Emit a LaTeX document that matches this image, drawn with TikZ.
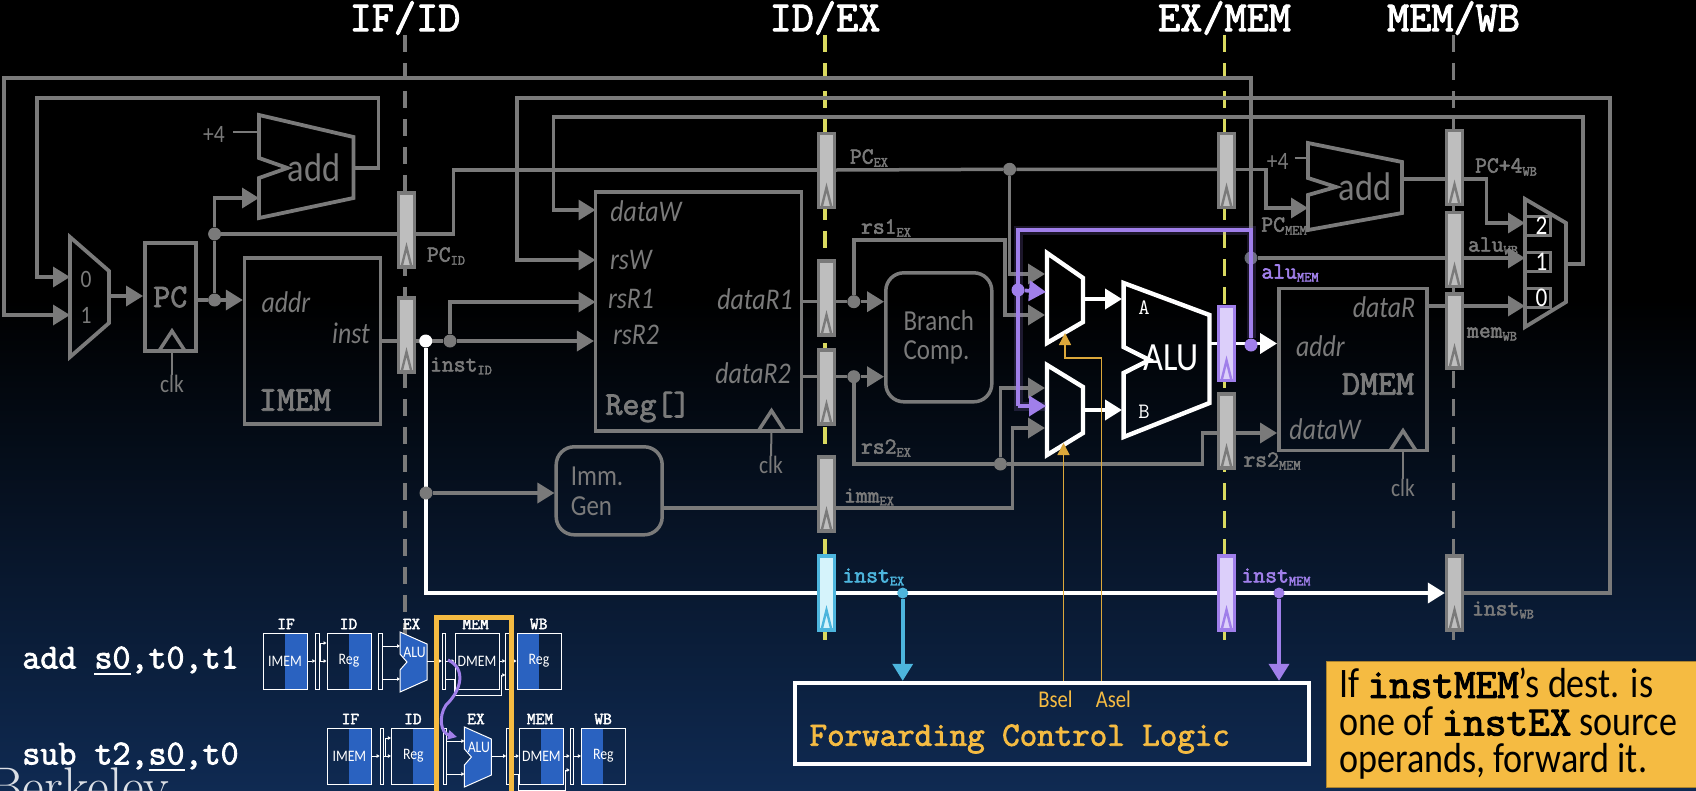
\documentclass[tikz,border=0pt]{standalone}
\usepackage{fontspec}
\setsansfont[FakeStretch=0.86]{Carlito}
\setmonofont[BoldFont=Latin Modern Mono,BoldFeatures={FakeBold=2.4}]{Latin Modern Mono}
\usetikzlibrary{arrows.meta}

\definecolor{wireGray}{HTML}{7A7A7A}
\definecolor{regFill}{HTML}{BEBEBE}
\definecolor{bgNavy}{HTML}{0F2A52}
\definecolor{fwdPurple}{HTML}{A07FEA}
\definecolor{regPurple}{HTML}{DCCFFA}
\definecolor{fwdCyan}{HTML}{4DB5DD}
\definecolor{regCyan}{HTML}{D5F3FB}
\definecolor{selOrange}{HTML}{F5BB42}
\definecolor{stageYellow}{HTML}{D9D95F}
\definecolor{miniBlue}{HTML}{2A62C0}

\newcommand{\sublbl}[2]{#1\raisebox{-3pt}{\fontsize{14}{14}\selectfont #2}}
\newcommand{\ulreg}[1]{\rlap{\rule[-7pt]{1.05em}{2.5pt}}#1}
\newcommand{\notemono}[1]{{\ttfamily\bfseries\fontsize{42}{37}\selectfont #1}}
\newcommand{\clktri}[1]{\draw[wire] ([xshift=-13pt]#1) -- ([yshift=20pt]#1) -- ([xshift=13pt]#1);}

\tikzset{
  >={Triangle[length=17pt,width=20pt]},
  wire/.style={draw=wireGray,line width=3.5pt},
  thinwire/.style={draw=wireGray,line width=2pt},
  hotwire/.style={draw=white,line width=3.8pt},
  fwdwire/.style={draw=fwdPurple,line width=3.8pt},
  cyanwire/.style={draw=fwdCyan,line width=3.6pt},
  selwire/.style={draw=selOrange!90!black,line width=1.5pt,>={Triangle[length=12pt,width=12pt]}},
  glow/.style={draw=fwdPurple,line width=9pt,opacity=.18},
  stage/.style={line width=3.5pt,dash pattern=on 17pt off 11pt},
  stagelbl/.style={font=\ttfamily\bfseries\fontsize{43}{43}\selectfont,text=white,inner sep=0pt},
  dot/.style={circle,fill=wireGray,inner sep=0pt,minimum size=13pt},
  block/.style={rectangle,draw=wireGray,line width=3.5pt,inner sep=0pt,text=wireGray},
  roundblock/.style={block,rounded corners=18pt,font=\sffamily\fontsize{29}{29}\selectfont,align=left},
  pipereg/.style={rectangle,draw=#1,line width=3.4pt,fill=regFill,inner sep=0pt,
    minimum width=16pt,minimum height=74pt,
    path picture={\draw[#1,line width=2.4pt] ([xshift=-5pt]path picture bounding box.south)
      -- ([yshift=20pt]path picture bounding box.south) -- ([xshift=5pt]path picture bounding box.south);}},
  pipereg/.default=wireGray,
  monolbl/.style={font=\ttfamily\bfseries\fontsize{23}{25}\selectfont,text=wireGray,inner sep=0pt},
  bigmono/.style={font=\ttfamily\bfseries\fontsize{35}{37}\selectfont,text=wireGray,inner sep=0pt},
  portlbl/.style={font=\sffamily\itshape\fontsize{30}{32}\selectfont,text=wireGray,inner sep=0pt},
  sanslbl/.style={font=\sffamily\fontsize{25}{27}\selectfont,text=wireGray,inner sep=0pt},
  hotlbl/.style={font=\sffamily\fontsize{40}{44}\selectfont,text=white,inner sep=0pt},
  codelbl/.style={font=\ttfamily\bfseries\fontsize{35}{37}\selectfont,text=white,inner sep=0pt},
  minibox/.style={rectangle,draw=white,line width=1pt,minimum width=44pt,minimum height=56pt,inner sep=0pt,
    font=\sffamily\fontsize{16}{16}\selectfont,text=white},
  miniright/.style={minibox,path picture={\fill[miniBlue] (path picture bounding box.north) rectangle (path picture bounding box.south east);}},
  minileft/.style={minibox,path picture={\fill[miniBlue] (path picture bounding box.north) rectangle (path picture bounding box.south west);}},
  minibar/.style={rectangle,draw=white,line width=1pt,minimum width=3.4pt,minimum height=56pt,inner sep=0pt},
  minilbl/.style={font=\ttfamily\bfseries\fontsize{17}{17}\selectfont,text=white,inner sep=0pt},
  miniwire/.style={draw=white,line width=.9pt,>={Triangle[length=3pt,width=3.4pt]}},
}

% one row of the little five stage strip
\newcommand{\minirow}[4]{%
  \begin{scope}[shift={(#2,#3)}]
    \node[minilbl] (#1lblIF) at (23,-9) {IF};
    \node[minilbl] (#1lblID) at (85.5,-9) {ID};
    \node[minilbl] (#1lblEX) at (148.6,-9) {EX};
    \node[minilbl] (#1lblMEM) at (212.6,-9) {MEM};
    \node[minilbl] (#1lblWB) at (275.7,-9) {WB};
    \node[miniright] (#1imem) at (22,28) {IMEM};
    \node[minibar] (#1barA) at (54.5,28) {};
    \node[miniright] (#1reg) at (86,28) {Reg};
    \node[minibar] (#1barB) at (117.5,28) {};
    \draw[fill=miniBlue,draw=white,line width=1pt] (137,-1) -- (164,11) -- (164,47) -- (137,59) -- (137,37) -- (144,29) -- (137,21) -- cycle;
    \node[font=\sffamily\fontsize{16}{16}\selectfont,text=white,inner sep=0pt] (#1alu) at (151.5,19) {ALU};
    \coordinate (#1aluIn) at (137,13);
    \coordinate (#1aluInB) at (137,46);
    \coordinate (#1aluOut) at (164,28);
    \node[minibar] (#1barC) at (181,28) {};
    \node[#4] (#1dmem) at (214,28) {DMEM};
    \node[minibar] (#1barD) at (244.5,28) {};
    \node[minileft] (#1regB) at (276,28) {Reg};
    \coordinate (#1regUp) at (0,10);
    \coordinate (#1memLow) at (191,62);
    \coordinate (#1memUp) at (238,42);
    \draw[miniwire,->] (#1imem) ++(22,0) -- (#1barA.west);
    \draw[miniwire,->] (#1barA.east) -- (#1reg.west);
    \draw[miniwire,->] (#1barA.east) ++(1,0) |- (#1reg.west |- #1regUp);
    \draw[miniwire,->] (#1barB.east |- #1aluIn) -- (#1aluIn);
    \draw[miniwire,->] (#1barB.east |- #1aluInB) -- (#1aluInB);
    \draw[miniwire,->] (#1aluOut) -- (#1barC.west |- #1aluOut);
    \draw[miniwire,->] (#1barC.east) -- (#1dmem.west);
    \draw[miniwire] (#1barC.east |- #1aluInB) -| (#1memLow);
    \draw[miniwire,->] (#1memLow) -| (#1memUp) -- (#1barD.west |- #1memUp);
    \draw[miniwire,->] (#1dmem.east) -- (#1barD.west);
    \draw[miniwire,->] (#1barD.east) -- (#1regB.west);
  \end{scope}
}

\begin{document}
\begin{tikzpicture}[x=1pt,y=-1pt]
  \useasboundingbox (0,0) rectangle (1696,790);
  \clip (0,0) rectangle (1696,790);
  \fill[black] (0,0) rectangle (1696,300);
  \shade[top color=black,bottom color=bgNavy] (0,300) rectangle (1696,790);

  % stage boundaries
  \node[stagelbl] (lblIF) at (405,18) {IF/ID};
  \node[stagelbl] (lblID) at (825,18) {ID/EX};
  \node[stagelbl] (lblEX) at (1224.5,18) {EX/MEM};
  \node[stagelbl] (lblMEM) at (1453.5,18) {MEM/WB};
  \coordinate (stageEnd) at (0,648);
  \draw[stage,wireGray] (lblIF.south) -- (lblIF.south |- stageEnd);
  \draw[stage,stageYellow] (lblID.south) -- (lblID.south |- stageEnd);
  \draw[stage,stageYellow] (lblEX.south) -- (lblEX.south |- stageEnd);
  \draw[stage,wireGray] (lblMEM.south) -- (lblMEM.south |- stageEnd);

  % pipeline registers
  \node[pipereg] (pcID) at (406.5,230) {};
  \node[pipereg] (instID) at (406.5,335) {};
  \node[pipereg] (pcEX) at (826.5,170.5) {};
  \node[pipereg] (rsOneEX) at (826.5,298) {};
  \node[pipereg] (rsTwoEX) at (826.5,387) {};
  \node[pipereg] (immEX) at (826.5,494) {};
  \node[pipereg=fwdCyan,fill=regCyan] (instEX) at (826.5,593) {};
  \node[pipereg] (pcMEM) at (1226.5,170.5) {};
  \node[pipereg=fwdPurple,fill=regPurple] (aluMEM) at (1226.5,343.5) {};
  \node[pipereg] (rsTwoMEM) at (1226.5,431) {};
  \node[pipereg=fwdPurple,fill=regPurple] (instMEM) at (1226.5,593) {};
  \node[pipereg] (pcWB) at (1454.5,167.5) {};
  \node[pipereg] (aluWB) at (1454.5,249.5) {};
  \node[pipereg] (memWB) at (1454.5,331) {};
  \node[pipereg] (instWB) at (1454.5,593) {};

  % blocks
  \node[block,minimum width=51pt,minimum height=108pt,font=\ttfamily\bfseries\fontsize{33}{35}\selectfont] (pc) at (170.3,297) {PC};
  \node[block,minimum width=136pt,minimum height=166pt] (imem) at (312.6,341) {};
  \node[block,minimum width=206pt,minimum height=239pt] (rf) at (698.7,311.3) {};
  \node[block,minimum width=148pt,minimum height=162pt] (dmem) at (1352.8,369.5) {};
  \node[roundblock,minimum width=106pt,minimum height=129pt] (branch) at (938.8,337.3) {Branch\\Comp.};
  \node[roundblock,minimum width=106pt,minimum height=88pt] (immgen) at (609.2,490.8) {};
  \node[sanslbl,font=\sffamily\fontsize{29}{30}\selectfont,align=left] (immText) at (597,491) {Imm.\\Gen};

  % mux, adder and ALU outlines
  \draw[wire,line width=3.8pt] (70,237) -- (109,271) -- (109,323) -- (70,357) -- cycle;
  \draw[wire,line width=3.8pt] (259,115) -- (353.5,137) -- (353.5,198) -- (259,218) -- (259,178) -- (287.5,168) -- (259,158) -- cycle;
  \draw[wire,line width=3.8pt] (1308,143) -- (1402,162) -- (1402,213) -- (1308,230) -- (1308,195) -- (1336,187) -- (1308,178) -- cycle;
  \draw[wire,line width=3.8pt] (1525,199) -- (1566,223) -- (1566,302) -- (1525,327) -- cycle;
  \draw[hotwire,line width=4.4pt] (1047,253) -- (1083,278) -- (1083,322) -- (1047,343) -- cycle;
  \draw[hotwire,line width=4.4pt] (1047,365) -- (1083,387) -- (1083,433) -- (1047,455) -- cycle;
  \draw[hotwire,line width=4.4pt] (1123.6,283) -- (1209.5,315) -- (1209.5,403) -- (1123.6,437) -- (1123.6,373) -- (1149.4,360) -- (1123.6,347) -- cycle;

  \foreach \y/\t/\n in {226/2/two,262/1/one,298/0/zero} {
    \node[rectangle,draw=wireGray,line width=3pt,minimum width=25pt,minimum height=19pt,inner sep=0pt,
      font=\sffamily\fontsize{27}{27}\selectfont,text=white,xshift=4pt] (wbSel\n) at (1534,\y) {\hspace*{7pt}\t};
  }

  % ports and bends
  \coordinate (muxAin) at (70,277);
  \coordinate (muxAinB) at (70,315);
  \coordinate (muxAout) at (109,296);
  \coordinate (addAin) at (259,198);
  \coordinate (addAout) at (353.5,168);
  \coordinate (addAconst) at (259,132);
  \coordinate (outerTL) at (4,78);
  \coordinate (innerTR) at (378.6,98);
  \coordinate (innerTL) at (37,98);
  \coordinate (pcBend) at (453.6,170);
  \coordinate (rswTR) at (1610,98);
  \coordinate (rswTL) at (517,98);
  \coordinate (rfW) at (595.5,260);
  \coordinate (rfD) at (595.5,210);
  \coordinate (rfOne) at (595.5,302);
  \coordinate (muxBout) at (1566,264);
  \coordinate (wbTR) at (1583,117);
  \coordinate (wbTL) at (553.4,117);
  \coordinate (mOneA) at (1045,274);
  \coordinate (mOneB) at (1045,315);
  \coordinate (mOneOut) at (1083,299);
  \coordinate (mTwoA) at (1045,388);
  \coordinate (mTwoB) at (1045,428);
  \coordinate (mTwoOut) at (1083,410);
  \coordinate (aluA) at (1122,299);
  \coordinate (aluB) at (1122,410);
  \coordinate (aluOut) at (1209.5,343.5);
  \coordinate (rsOneTop) at (1005,240);
  \coordinate (rsTwoBend) at (1202.7,433);
  \coordinate (immBus) at (600,508);
  \coordinate (immBend) at (1012.6,428);
  \coordinate (addBin) at (1308,208);
  \coordinate (addBout) at (1402,179);
  \coordinate (addBconst) at (1308,158);
  \coordinate (pcAddBend) at (1266,208);
  \coordinate (wbBend) at (1486.7,223);
  \coordinate (muxBtwo) at (1525,223);
  \coordinate (muxBone) at (1525,258);
  \coordinate (muxBzero) at (1525,306);
  \coordinate (memOut) at (1427,306);
  \coordinate (wireInst) at (600,593);
  \coordinate (fwdTR) at (1251,230);
  \coordinate (fwdTL) at (1018,230);
  \coordinate (fwdBL) at (1018,406);
  \coordinate (mTwoFwd) at (1046,406);
  \coordinate (mOneFwd) at (1046,292);

  % junctions
  \node[dot] (jPcOut) at (214.6,300) {};
  \node[dot] (jPcUp) at (214.6,234) {};
  \node[dot] (jInst) at (450,341) {};
  \node[dot] (jOne) at (853.8,301.7) {};
  \node[dot] (jTwo) at (853.8,376.7) {};
  \node[dot] (jRsTwo) at (1000.4,464) {};
  \node[dot] (jPcEx) at (1009.6,169.3) {};
  \node[dot,fill=wireGray!80!bgNavy] (jAlu) at (1251,258) {};

  % gray datapath
  \draw[wire,->] (jAlu) |- (outerTL) |- (muxAinB);
  \draw[wire,->] (addAout) -| (innerTR) -- (innerTL) |- (muxAin);
  \draw[wire,->] (muxAout) -- (muxAout -| pc.west);
  \draw[wire] (pc.east |- jPcOut) -- (jPcOut);
  \draw[wire,->] (jPcOut) -- (jPcOut -| imem.west);
  \draw[wire] (jPcOut) -- (jPcUp);
  \draw[wire,->] (jPcUp) |- (addAin);
  \draw[wire] (jPcUp) -- (jPcUp -| pcID.west);
  \draw[wire] (pcID.east |- jPcUp) -| (pcBend) -- (pcBend -| pcEX.west);
  \draw[wire] (imem.east |- jInst) -- (instID.west |- jInst);
  \draw[wire,->] (instID.east |- jInst) -- (jInst) -- (jInst -| rf.west);
  \draw[wire,->] (jInst) |- (rfOne);
  \draw[wire,->] (instWB.east |- wireInst) -| (rswTR) -- (rswTL) |- (rfW);
  \draw[wire,->] (muxBout) -| (wbTR) -- (wbTL) |- (rfD);
  \draw[wire] (rf.east |- jOne) -- (rsOneEX.west |- jOne);
  \draw[wire,->] (rsOneEX.east |- jOne) -- (jOne) -- (jOne -| branch.west);
  \draw[wire,->] (jOne) |- (rsOneTop) |- (mOneB);
  \draw[wire] (rf.east |- jTwo) -- (rsTwoEX.west |- jTwo);
  \draw[wire,->] (rsTwoEX.east |- jTwo) -- (jTwo) -- (jTwo -| branch.west);
  \draw[wire] (jTwo) |- (jRsTwo) -| (rsTwoBend) -- (rsTwoBend -| rsTwoMEM.west);
  \draw[wire,->] (jRsTwo) |- (mTwoA);
  \draw[wire,->] (rsTwoMEM.east |- rsTwoBend) -- (rsTwoBend -| dmem.west);
  \draw[wire] (immgen.east |- immBus) -- (immBus -| immEX.west);
  \draw[wire,->] (immBus -| immEX.east) -| (immBend) -- (mTwoB);
  \draw[wire] (pcBend -| pcEX.east) -- (jPcEx) -- (jPcEx -| pcMEM.west);
  \draw[wire,->] (jPcEx) |- (mOneA);
  \draw[wire,->] (jPcEx -| pcMEM.east) -| (pcAddBend) -- (addBin);
  \draw[wire] (addBout) -- (addBout -| pcWB.west);
  \draw[wire,->] (addBout -| pcWB.east) -| (wbBend) -- (muxBtwo);
  \draw[wire] (jAlu) -- (jAlu -| aluWB.west);
  \draw[wire,->] (jAlu -| aluWB.east) -- (muxBone);
  \draw[wire] (memOut) -- (memOut -| memWB.west);
  \draw[wire,->] (memOut -| memWB.east) -- (muxBzero);

  % instruction bus and ALU path
  \node[dot,fill=white] (jInstW) at (425.7,341) {};
  \draw[hotwire] (jInstW) |- (instEX.west |- wireInst);
  \draw[hotwire] (instEX.east |- wireInst) -- (instMEM.west |- wireInst);
  \draw[hotwire,->] (instMEM.east |- wireInst) -- (instWB.west |- wireInst);
  \node[dot] (jImm) at (426,493) {};
  \draw[wire,->] (jImm) -- (jImm -| immgen.west);
  \draw[hotwire,->] (mOneOut) -- (aluA);
  \draw[hotwire,->] (mTwoOut) -- (aluB);
  \draw[hotwire] (aluOut) -- (aluMEM.west |- aluOut);
  \draw[hotwire,->] (aluMEM.east |- aluOut) -- (aluOut -| dmem.west);

  % forwarding path
  \node[dot,fill=fwdPurple] (jFwd) at (1251,345) {};
  \node[dot,fill=fwdPurple] (jFwdA) at (1018,290) {};
  \draw[glow] (jFwd) -- (fwdTR) -- (fwdTL) -- (fwdBL) -- (mTwoFwd);
  \draw[fwdwire] (jFwd) -- (fwdTR) -- (fwdTL) -- (fwdBL);
  \draw[fwdwire,->] (fwdBL) -- (mTwoFwd);
  \draw[fwdwire,->] (jFwdA) -- (mOneFwd);

  % control block
  \node[rectangle,draw=white,line width=4pt,minimum width=514pt,minimum height=81pt,inner sep=0pt] (ctrl) at (1051.8,723.3) {};
  \node[font=\ttfamily\bfseries\fontsize{34}{36}\selectfont,text=selOrange,inner sep=0pt] (ctrlText) at (1019.7,739) {Forwarding Control Logic};
  \node[font=\sffamily\fontsize{24}{26}\selectfont,text=selOrange,inner sep=0pt] (bselLbl) at (1055.5,699) {Bsel};
  \node[font=\sffamily\fontsize{24}{26}\selectfont,text=selOrange,inner sep=0pt] (aselLbl) at (1113.4,699) {Asel};
  \coordinate (bselTip) at (1063.5,443);
  \coordinate (aselTip) at (1065,333);
  \coordinate (aselBend) at (1101.5,358);
  \draw[selwire,->] (ctrl.north -| bselTip) -- (bselTip);
  \draw[selwire,->] (ctrl.north -| aselBend) |- (aselBend -| aselTip) -- (aselTip);
  \node[circle,fill=fwdCyan,inner sep=0pt,minimum size=11pt] (jEx) at (902.7,593) {};
  \node[circle,fill=fwdPurple,inner sep=0pt,minimum size=11pt] (jMem) at (1279,593) {};
  \draw[cyanwire,->] (jEx) -- (jEx |- ctrl.north);
  \draw[fwdwire,->] (jMem) -- (jMem |- ctrl.north);

  % block labels
  \node[portlbl] (addrI) at (286,302) {addr};
  \node[portlbl] (instO) at (351,333) {inst};
  \node[bigmono] (imemLbl) at (295,400) {IMEM};
  \node[portlbl] (dataW) at (646,211) {dataW};
  \node[portlbl] (rsW) at (631,260) {rsW};
  \node[portlbl] (rsR1) at (631,299) {rsR1};
  \node[portlbl] (rsR2) at (636,335) {rsR2};
  \node[portlbl] (dataR1) at (755,299) {dataR1};
  \node[portlbl] (dataR2) at (753,373) {dataR2};
  \node[bigmono,font=\ttfamily\bfseries\fontsize{33}{35}\selectfont] (regLbl) at (648,407) {Reg[]};
  \node[portlbl] (dataR) at (1384,307) {dataR};
  \node[portlbl] (addrD) at (1320.5,346) {addr};
  \node[bigmono] (dmemLbl) at (1378,384) {DMEM};
  \node[portlbl] (dataWD) at (1325,429) {dataW};
  \node[hotlbl,text=wireGray] (addA) at (314,168) {add};
  \node[hotlbl,text=wireGray] (addB) at (1365,187) {add};
  \node[hotlbl] (aluLbl) at (1171,358) {ALU};
  \node[font=\ttfamily\fontsize{22}{24}\selectfont,text=white,inner sep=0pt] (aLbl) at (1144,308) {A};
  \node[font=\ttfamily\fontsize{22}{24}\selectfont,text=white,inner sep=0pt] (bLbl) at (1144,412) {B};
  \node[sanslbl] (muxZero) at (86,279) {0};
  \node[sanslbl] (muxOne) at (86,315) {1};
  \node[sanslbl] (plusA) at (214,134) {+4};
  \node[sanslbl] (plusB) at (1277.6,161) {+4};
  \draw[thinwire] (plusA.east) ++(8,-2) -- (addAconst);
  \draw[thinwire] (plusB.east) ++(6,-3) -- (addBconst);

  % clocks
  \coordinate (rfClk) at (771.5,430.7);
  \coordinate (dmemClk) at (1403,450.7);
  \coordinate (pcClk) at (172,351);
  \clktri{pcClk}
  \clktri{rfClk}
  \clktri{dmemClk}
  \node[sanslbl] (clkPC) at (172,384) {clk};
  \node[sanslbl] (clkRF) at (771,465) {clk};
  \node[sanslbl] (clkDM) at (1403,488) {clk};
  \draw[thinwire] (pcClk) -- (clkPC.north);
  \draw[thinwire] (rfClk) -- (clkRF.north);
  \draw[thinwire] (dmemClk) -- (clkDM.north);

  % register value labels
  \node[monolbl] (lPcID) at (446,256) {\sublbl{PC}{ID}};
  \node[monolbl] (lInstID) at (461,366) {\sublbl{inst}{ID}};
  \node[monolbl] (lPcEX) at (869,158) {\sublbl{PC}{EX}};
  \node[monolbl] (lRsOne) at (886,228) {\sublbl{rs1}{EX}};
  \node[monolbl] (lRsTwo) at (886,448) {\sublbl{rs2}{EX}};
  \node[monolbl] (lImm) at (869,497) {\sublbl{imm}{EX}};
  \node[monolbl] (lPcMEM) at (1284,226) {\sublbl{PC}{MEM}};
  \node[monolbl,text=fwdPurple] (lAlu) at (1290,273) {\sublbl{alu}{MEM}};
  \node[monolbl] (lRsMem) at (1272,461) {\sublbl{rs2}{MEM}};
  \node[monolbl] (lPcWB) at (1506,167) {\sublbl{PC+4}{WB}};
  \node[monolbl] (lAluWB) at (1493,246) {\sublbl{alu}{WB}};
  \node[monolbl] (lMemWB) at (1492,334) {\sublbl{mem}{WB}};
  \node[monolbl,text=fwdCyan] (lInstEX) at (873.4,577) {\sublbl{inst}{EX}};
  \node[monolbl,text=fwdPurple] (lInstMEM) at (1276,577) {\sublbl{inst}{MEM}};
  \node[monolbl] (lInstWB) at (1503,610) {\sublbl{inst}{WB}};

  % instruction strip
  \node[anchor=base west,inner sep=0pt,font=\fontsize{53}{53}\selectfont,text=white!85!bgNavy] (berkeley) at (-12,804) {Berkeley};
  \node[codelbl] (addInst) at (130.5,661) {add \ulreg{s0},t0,t1};
  \node[codelbl] (subInst) at (130.5,757) {sub t2,\ulreg{s0},t0};
  \minirow{rowA}{263}{633}{minibox}
  \minirow{rowB}{327.4}{728}{miniright}
  \coordinate (frameBL) at (436,795);
  \coordinate (frameTL) at (436,617);
  \coordinate (frameBR) at (511.5,795);
  \draw[draw=selOrange,line width=5pt] (frameBL) -- (frameTL) -| (frameBR);
  \coordinate (curveA) at (448,660);
  \coordinate (curveB) at (446,705);
  \coordinate (curveC) at (457,737);
  \draw[draw=fwdPurple,line width=3pt,>={Triangle[length=9pt,width=9pt]},->] (curveA) .. controls (466,668) and (462,690) .. (curveB) .. controls (438,717) and (441,733) .. (curveC);

  % note
  \node[rectangle,anchor=north west,fill=selOrange,draw=selOrange!70!black,line width=.6pt,minimum width=372pt,minimum height=126pt,inner sep=0pt] (noteBox) at (1326,661) {};
  \node[anchor=west,inner sep=0pt,align=left,text=black,font=\sffamily\fontsize{42}{37.5}\selectfont] (noteText) at (1339,724) {If \notemono{instMEM}’s dest. is\\one of \notemono{instEX} source\\operands, forward it.};
\end{tikzpicture}
\end{document}
